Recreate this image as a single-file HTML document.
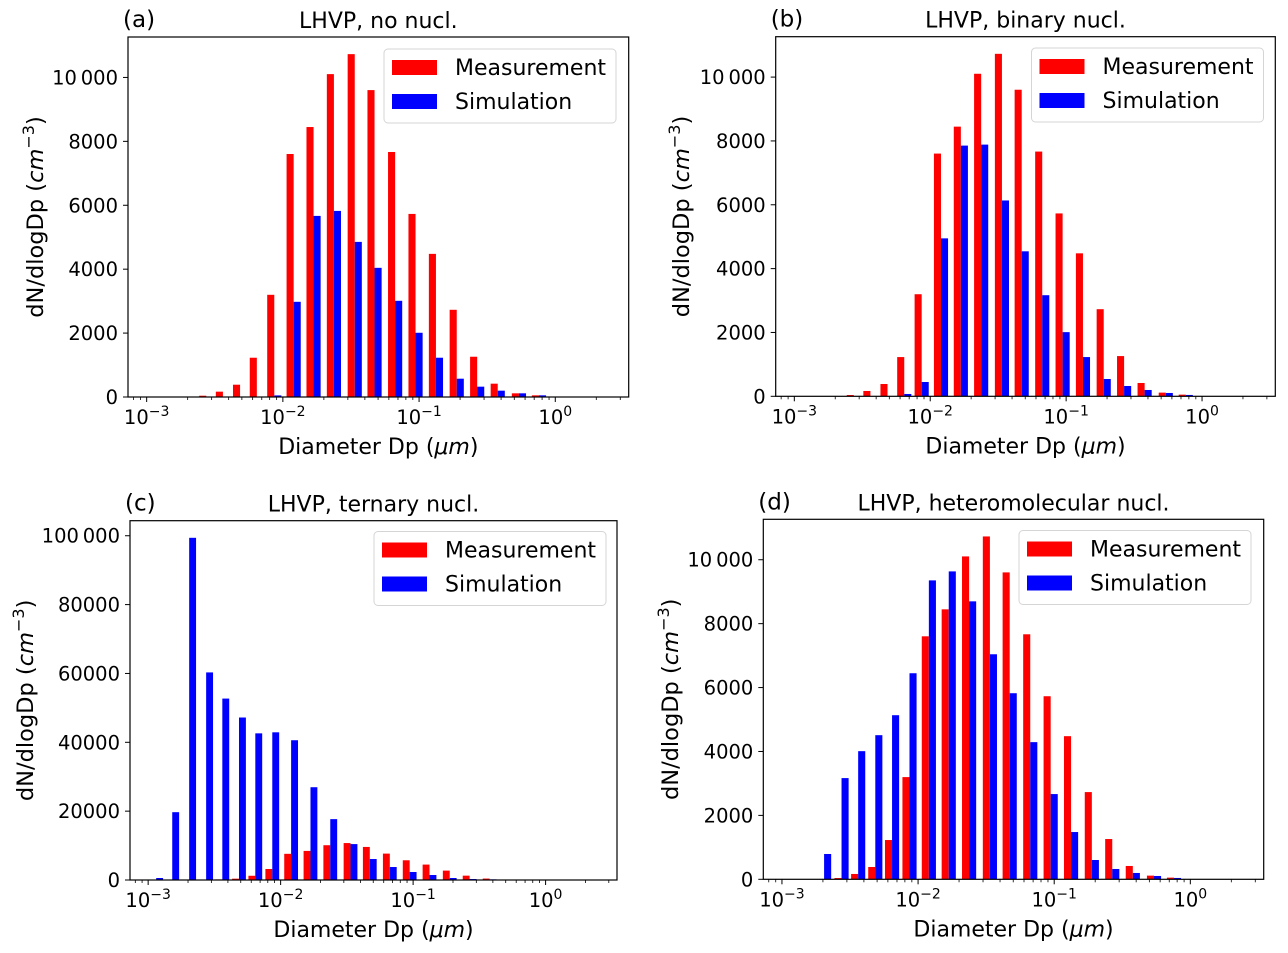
<!DOCTYPE html>
<html><head><meta charset="utf-8"><style>
html,body{margin:0;padding:0;background:#fff;}
svg{display:block;font-family:"DejaVu Sans","Liberation Sans",sans-serif;}
</style></head><body>
<svg id="fig" width="1288" height="953" viewBox="0 0 1288 953" xmlns="http://www.w3.org/2000/svg"></svg>
<script>
// bin diameters (µm), log10 values
const diameters = [0.00115,0.00152,0.00204,0.00274,0.00363,0.00485,0.00644,0.00865,0.0120,0.0168,0.0237,0.0337,0.0471,0.0667,0.0942,0.133,0.189,0.267,0.378,0.541,0.759];
const measurement = [0,0,0,40,167,385,1229,3198,7604,8448,10104,10729,9604,7667,5729,4479,2729,1260,417,115,52];
const simNoNucl = [0,0,0,0,0,0,0,50,2979,5667,5823,4854,4042,3010,2010,1229,573,323,198,115,52];
const simBinary = [0,0,0,0,0,0,73,448,4948,7854,7885,6135,4542,3167,2010,1229,542,323,198,104,42];
const simTernary = [580,19700,99400,60300,52700,47200,42600,42900,40600,26950,17680,10430,6090,3770,2320,1450,580,290,190,0,0];
const simHetero = [0,0,792,3167,4010,4510,5135,6448,9354,9635,8698,7042,5823,4292,2667,1479,604,323,198,104,42];
const ticksSmall = [0,2000,4000,6000,8000,10000];
const tickLabelsSmall = ["0","2000","4000","6000","8000","10\u2009000"];
const ticksBig = [0,20000,40000,60000,80000,100000];
const tickLabelsBig = ["0","20000","40000","60000","80000","100\u2009000"];
const xTickExps = [-3,-2,-1,0];

const NS="http://www.w3.org/2000/svg";
const svg=document.getElementById('fig');
function mk(tag,attrs,parent){const e=document.createElementNS(NS,tag);for(const k in attrs)e.setAttribute(k,attrs[k]);(parent||svg).appendChild(e);return e;}

const XMIN=-3.137, XMAX=0.539, BW=0.052;
const panels=[
 {id:'a',L:128,R:628.7,T:37,B:397,sim:simNoNucl,title:'LHVP, no nucl.',ticks:ticksSmall,labels:tickLabelsSmall,ylx:35,leg:[384,49]},
 {id:'b',L:775.7,R:1275.3,T:36.7,B:396.3,sim:simBinary,title:'LHVP, binary nucl.',ticks:ticksSmall,labels:tickLabelsSmall,ylx:681,leg:[1031.5,48]},
 {id:'c',L:130,R:617,T:520.7,B:880,sim:simTernary,title:'LHVP, ternary nucl.',ticks:ticksBig,labels:tickLabelsBig,ylx:25,leg:[374,531.5]},
 {id:'d',L:763.3,R:1263.7,T:519.3,B:879.3,sim:simHetero,title:'LHVP, heteromolecular nucl.',ticks:ticksSmall,labels:tickLabelsSmall,ylx:670,leg:[1019,530.5]}
];

panels.forEach(p=>{
  const g=mk('g',{});
  
  
  const xs=v=>p.L+(v-XMIN)/(XMAX-XMIN)*(p.R-p.L);
  const ymax=1.05*Math.max(...measurement,...p.sim);
  const ys=v=>p.B-v/ymax*(p.B-p.T);
  diameters.forEach((d,i)=>{
    const ld=Math.log10(d);
    const m=measurement[i], s=p.sim[i];
    if(m>0){const r=mk('rect',{x:xs(ld-BW),y:ys(m),width:xs(ld)-xs(ld-BW),height:p.B-ys(m),fill:'#ff0000'},g);
      
      }
    if(s>0){const r=mk('rect',{x:xs(ld),y:ys(s),width:xs(ld+BW)-xs(ld),height:p.B-ys(s),fill:'#0000ff'},g);
      
      }
  });
  const fr=mk('rect',{x:p.L,y:p.T,width:p.R-p.L,height:p.B-p.T,fill:'none',stroke:'#000','stroke-width':1.2},g);
  
  
  for(let e=-4;e<=1;e++){for(let k=1;k<10;k++){const v=e+Math.log10(k);if(v<XMIN||v>XMAX)continue;
    const x=xs(v);mk('line',{x1:x,x2:x,y1:p.B,y2:p.B+(k==1?5:3),stroke:'#000','stroke-width':k==1?1:0.8},g);}}
  xTickExps.forEach(e=>{
    const t=mk('text',{x:xs(e),y:p.B+27,'text-anchor':'middle','font-size':19.5},g);
    
    
    t.innerHTML='10<tspan dy="-8" font-size="14">'+(e<0?'\u2212':'')+Math.abs(e)+'</tspan>';
  });
  p.ticks.forEach((v,i)=>{
    const y=ys(v);mk('line',{x1:p.L-5,x2:p.L,y1:y,y2:y,stroke:'#000','stroke-width':1},g);
    const t=mk('text',{x:p.L-10,y:y+7,'text-anchor':'end','font-size':19.5},g);
    
    
    t.textContent=p.labels[i];
  });
  const cx=(p.L+p.R)/2, cy=(p.T+p.B)/2;
  const xl=mk('text',{x:cx,y:p.B+57,'text-anchor':'middle','font-size':22},g);
  
  
  xl.innerHTML='Diameter Dp (<tspan font-style="italic">\u03bcm</tspan>)';
  const yl=mk('text',{x:p.ylx,y:cy,'text-anchor':'middle','font-size':22.5,transform:`rotate(-90 ${p.ylx} ${cy})`,dy:8},g);
  
  
  yl.innerHTML='dN/dlogDp (<tspan font-style="italic">cm</tspan><tspan dy="-9" font-size="16">\u22123</tspan><tspan dy="9">)</tspan>';
  const tt=mk('text',{x:cx,y:p.T-9,'text-anchor':'middle','font-size':22},g);
  
  
  tt.textContent=p.title;
  const pl=mk('text',{x:p.L-5,y:p.T-10,'font-size':23},g);
  
  
  pl.textContent='('+p.id+')';
  const [lx,ly]=p.leg;
  const lg=mk('g',{},g);
  
  
  mk('rect',{x:lx,y:ly,width:232,height:74,rx:4,fill:'#fff','fill-opacity':0.8,stroke:'#d5d5d5','stroke-width':1},lg);
  mk('rect',{x:lx+8,y:ly+11,width:45,height:15,fill:'#ff0000'},lg);
  mk('rect',{x:lx+8,y:ly+45,width:45,height:15,fill:'#0000ff'},lg);
  const t1=mk('text',{x:lx+71,y:ly+26,'font-size':22},lg);
  
  
  t1.textContent='Measurement';
  const t2=mk('text',{x:lx+71,y:ly+60,'font-size':22},lg);
  
  
  t2.textContent='Simulation';
});
</script>
</body></html>
